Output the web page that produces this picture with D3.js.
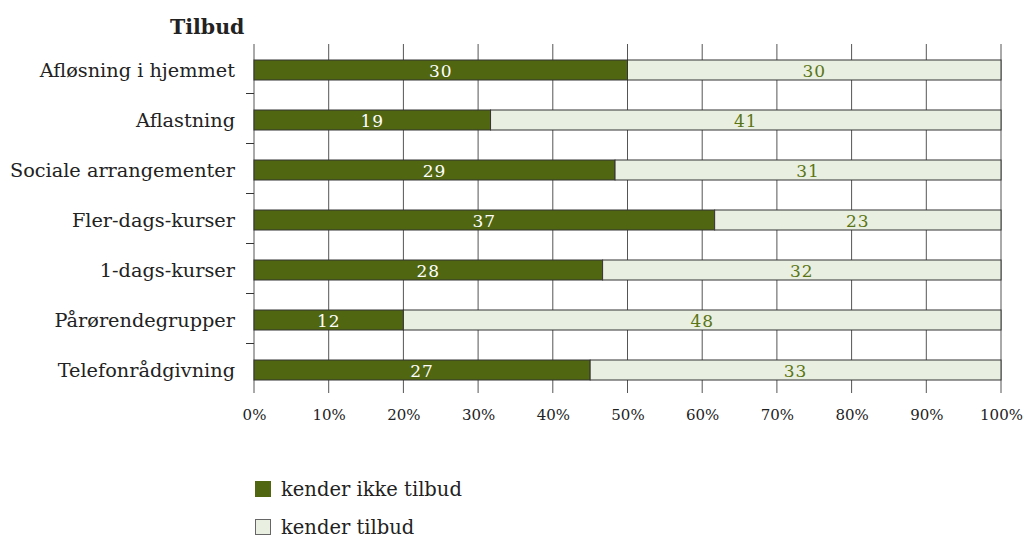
<!DOCTYPE html>
<html><head><meta charset="utf-8">
<script src="https://cdn.jsdelivr.net/npm/d3@7"></script>
<style>body{margin:0;background:#fff}svg{display:block}text{font-family:"DejaVu Serif",serif}</style>
</head><body>
<svg id="c" width="1024" height="538"></svg>
<script>
const categories = ["Afløsning i hjemmet","Aflastning","Sociale arrangementer","Fler-dags-kurser","1-dags-kurser","Pårørendegrupper","Telefonrådgivning"];
const kenderIkke = [30,19,29,37,28,12,27];
const kender = [30,41,31,23,32,48,33];
const seriesNames = ["kender ikke tilbud","kender tilbud"];
const tickValues = [0,0.1,0.2,0.3,0.4,0.5,0.6,0.7,0.8,0.9,1];

const dark = "#506610", light = "#eaf0e1", border = "#333";
const svg = d3.select("#c");
const x = d3.scaleLinear().domain([0,1]).range([254,1001]);
const y = d3.scaleBand().domain(categories).range([45,395]).paddingInner(0.6).paddingOuter(0.3);

// gridlines
svg.append("g").selectAll("line").data(tickValues).join("line")
  .attr("x1",d=>x(d)).attr("x2",d=>x(d)).attr("y1",44).attr("y2",393)
  .attr("stroke","#555").attr("stroke-width",1);

// y separator ticks
const step = y.step();
svg.append("g").selectAll("line").data(categories.slice(1)).join("line")
  .attr("x1",246).attr("x2",254)
  .attr("y1",d=>Math.round(y(d)-y.paddingInner()*step/2)-1.5)
  .attr("y2",d=>Math.round(y(d)-y.paddingInner()*step/2)-1.5)
  .attr("stroke","#333");

const rows = categories.map((c,i)=>{const t=kenderIkke[i]+kender[i];return {c,a:kenderIkke[i],b:kender[i],pa:kenderIkke[i]/t};});
const g = svg.append("g");
g.selectAll("rect.a").data(rows).join("rect").attr("class","a")
  .attr("x",x(0)).attr("y",d=>y(d.c)).attr("width",d=>x(d.pa)-x(0)).attr("height",y.bandwidth())
  .attr("fill",dark).attr("stroke",border).attr("stroke-width",1);
g.selectAll("rect.b").data(rows).join("rect").attr("class","b")
  .attr("x",d=>x(d.pa)).attr("y",d=>y(d.c)).attr("width",d=>x(1)-x(d.pa)).attr("height",y.bandwidth())
  .attr("fill",light).attr("stroke",border).attr("stroke-width",1);
g.selectAll("text.a").data(rows).join("text").attr("class","a")
  .attr("x",d=>(x(0)+x(d.pa))/2).attr("y",d=>y(d.c)+y.bandwidth()/2+7)
  .attr("text-anchor","middle").attr("fill","#fff").attr("font-size",17).attr("letter-spacing",1).text(d=>d.a);
g.selectAll("text.b").data(rows).join("text").attr("class","b")
  .attr("x",d=>(x(d.pa)+x(1))/2).attr("y",d=>y(d.c)+y.bandwidth()/2+7)
  .attr("text-anchor","middle").attr("fill","#5a7515").attr("font-size",17).attr("letter-spacing",1).text(d=>d.b);

// category labels
svg.append("g").selectAll("text").data(categories).join("text")
  .attr("x",235).attr("y",d=>y(d)+y.bandwidth()/2+7).attr("text-anchor","end")
  .attr("fill","#222").attr("font-size",19.3).text(d=>d);

// x axis
const xa = svg.append("g").attr("transform","translate(0,393)")
  .call(d3.axisBottom(x).tickValues(tickValues).tickFormat(d3.format(".0%")).tickSize(0).tickPadding(16));
xa.select(".domain").remove();
xa.selectAll("text").attr("font-family","DejaVu Serif").attr("font-size",15).attr("fill","#222");

// title
svg.append("text").attr("x",170).attr("y",34).attr("font-size",20.5).attr("font-weight","bold").attr("fill","#222").text("Tilbud");

// legend
const lg = svg.append("g").selectAll("g").data(seriesNames).join("g")
  .attr("transform",(d,i)=>`translate(255,${481+i*38})`);
lg.append("rect").attr("x",0.5).attr("y",0.5).attr("width",15).attr("height",15).attr("fill",(d,i)=>i?light:dark).attr("stroke",(d,i)=>i?"#666":dark);
lg.append("text").attr("x",26).attr("y",15).attr("font-size",19.5).attr("fill","#222").text(d=>d);
</script>
</body></html>
